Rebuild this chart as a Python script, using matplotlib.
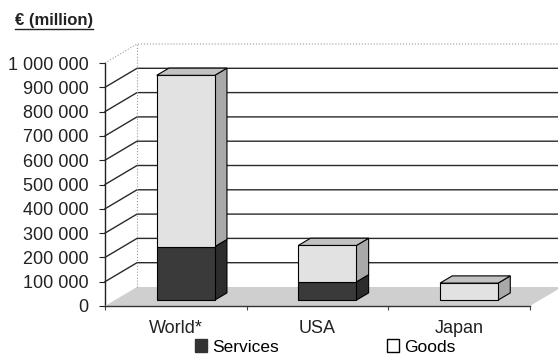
import matplotlib
matplotlib.use("Agg")
import matplotlib.pyplot as plt
import numpy as np
from matplotlib.patches import Polygon, Rectangle
from matplotlib.lines import Line2D
from matplotlib.transforms import IdentityTransform

plt.rcParams['font.family'] = ['Liberation Sans', 'DejaVu Sans']

categories = ["World*", "USA", "Japan"]
services = [220000, 75000, 0]
goods = [705000, 150000, 70000]
yticks = [0, 100000, 200000, 300000, 400000, 500000, 600000, 700000, 800000, 900000, 1000000]
ytick_labels = ["0", "100 000", "200 000", "300 000", "400 000", "500 000",
                "600 000", "700 000", "800 000", "900 000", "1 000 000"]
series_names = ["Services", "Goods"]

W, H = 558, 356
fig = plt.figure(figsize=(W / 100, H / 100), dpi=100)
ax = fig.add_axes([105 / W, 1 - 306 / H, 425 / W, 243 / H])
ax.set_xlim(-0.5, 2.5)
ax.set_ylim(0, 1000000)
for s in ["top", "right", "bottom"]:
    ax.spines[s].set_visible(False)
ax.spines["left"].set_color("#222222")
ax.spines["left"].set_linewidth(1.0)
ax.set_yticks(yticks)
ax.set_yticklabels(ytick_labels, fontsize=13, color="#222222")
ax.tick_params(axis="y", length=4, width=0.8, pad=8, color="#222222")
ax.set_xticks(range(len(categories)))
ax.set_xticklabels(categories, fontsize=13, color="#222222")
ax.tick_params(axis="x", which="major", length=0, pad=10)
ax.set_xticks([-0.5, 0.5, 1.5, 2.5], minor=True)
ax.tick_params(axis="x", which="minor", length=3, width=0.8, color="#444444")
ax.patch.set_visible(False)

DEPTH = np.array([32.0, 19.0])
F, B = 0.31, 0.69
BAR_W = 0.41


def P(x, y, d):
    p = ax.transData.transform((x, y))
    return p + d * DEPTH


def poly(pts, fc, ec="black", lw=0.8, z=2, **kw):
    pg = Polygon(np.array(pts), closed=True, facecolor=fc, edgecolor=ec, lw=lw,
                 transform=IdentityTransform(), clip_on=False, zorder=z, **kw)
    fig.add_artist(pg)


def line(pts, color="#222222", lw=1.0, ls="-", z=1):
    pts = np.array(pts)
    ln = Line2D(pts[:, 0], pts[:, 1], color=color, lw=lw, ls=ls,
                transform=IdentityTransform(), clip_on=False, zorder=z)
    fig.add_artist(ln)


x_lo, x_hi = -0.5, 2.5
# floor
poly([P(x_lo, 0, 0), P(x_hi, 0, 0), P(x_hi, 0, 1), P(x_lo, 0, 1)],
     fc="#cfcfcf", ec="none", z=1)
line([P(x_lo, 0, 0), P(x_hi, 0, 0)], color="#333333", lw=1.0, z=1.5)
# grid lines: side wall diagonal + back wall
for v in yticks[1:-1]:
    line([P(x_lo, v, 0), P(x_lo, v, 1), P(x_hi + 0.3, v, 1)], color="#2a2a2a", lw=1.0)
top = yticks[-1]
line([P(x_lo, top, 0), P(x_lo, top, 1), P(x_hi + 0.3, top, 1)], color="#999999", lw=0.8, ls=":")
line([P(x_lo, 0, 1), P(x_lo, top, 1)], color="#999999", lw=0.8, ls=":")

colors = {
    "Services": ("#3a3a3a", "#2c2c2c", "#555555"),
    "Goods": ("#e2e2e2", "#a9a9a9", "#c2c2c2"),
}

for i in range(len(categories)):
    x0, x1 = i - BAR_W / 2, i + BAR_W / 2
    base = 0
    segs = [("Services", services[i]), ("Goods", goods[i])]
    segs = [s for s in segs if s[1] > 0]
    for k, (name, val) in enumerate(segs):
        front, side, topc = colors[name]
        y0, y1 = base, base + val
        poly([P(x1, y0, F), P(x1, y0, B), P(x1, y1, B), P(x1, y1, F)], fc=side, z=3)
        poly([P(x0, y0, F), P(x1, y0, F), P(x1, y1, F), P(x0, y1, F)], fc=front, z=3)
        if k == len(segs) - 1:
            poly([P(x0, y1, F), P(x1, y1, F), P(x1, y1, B), P(x0, y1, B)], fc=topc, z=3)
        base = y1

handles = [Rectangle((0, 0), 1, 1, facecolor="#333333", edgecolor="#333333"),
           Rectangle((0, 0), 1, 1, facecolor="white", edgecolor="black")]
fig.legend(handles, series_names, loc="center", bbox_to_anchor=(0.583, 1 - 347 / H),
           ncol=2, frameon=False, fontsize=12.5, handlelength=0.7, handleheight=0.7,
           handletextpad=0.3, columnspacing=6.2, borderpad=0, borderaxespad=0)

t = fig.text(15 / W, 1 - 20 / H, "€ (million)", fontsize=12, fontweight="bold",
             color="#222222", va="center", ha="left")
fig.canvas.draw()
bb = t.get_window_extent()
line([(bb.x0, bb.y0 - 1), (bb.x1, bb.y0 - 1)], color="#222222", lw=1.0)

fig.savefig("out.png", dpi=100)
